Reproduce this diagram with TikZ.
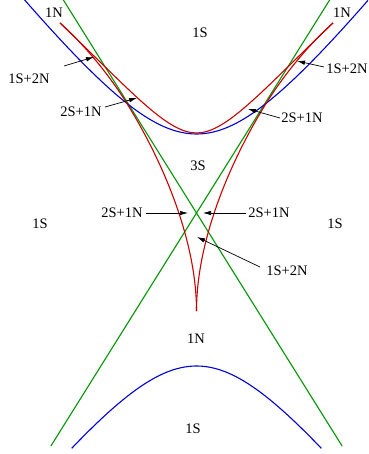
\documentclass[tikz,border=0pt]{standalone}
\usepackage{fontspec}
\setmainfont{Liberation Serif}
\usetikzlibrary{arrows.meta}
\definecolor{cblue}{RGB}{0,0,210}
\definecolor{cred}{RGB}{200,0,0}
\definecolor{cgreen}{RGB}{0,150,0}
\begin{document}
\begin{tikzpicture}[x=1pt,y=-1pt,
  lab/.style={font=\fontsize{14.5}{16}\selectfont, inner sep=0pt},
  curve/.style={line width=1.1pt},
  pointer/.style={line width=0.7pt, -{Latex[length=8pt,width=4.5pt]}}]
\useasboundingbox (0,0) rectangle (368,454);
\begin{scope}
\clip (0,0) rectangle (368,454);
% green asymptote-like lines
\draw[curve, cgreen] (60.25,-5) -- (342.1,446);
\draw[curve, cgreen] (332.75,-5) -- (50.9,446);
% blue hyperbola
\draw[curve, cblue] plot[domain=-1.45:1.45, samples=120, variable=\t] ({196.5+90*sinh(\t)},{250-116*cosh(\t)});
\draw[curve, cblue] plot[domain=-1.13:1.13, samples=100, variable=\t] ({196.5+90*sinh(\t)},{250+116*cosh(\t)});
% red curve
\begin{scope}[shift={(196.5,0)}]
\foreach \s in {1,-1}{
  \begin{scope}[xscale=\s]
    \draw[curve, cred] (-136.5,23) .. controls (-64.5,92) and (-29.5,133) .. (0,133);
    \draw[curve, cred] (-136.5,23) .. controls (-111.5,45) and (-86.1,77) .. (-70.5,102)
                                  .. controls (-33,162) and (0,241) .. (0,311);
  \end{scope}
}
\end{scope}
\end{scope}
% labels
\node[lab] (n1) at (54,13) {1N};
\node[lab] (n2) at (342,13) {1N};
\node[lab] (s1) at (200,33) {1S};
\node[lab] (l1) at (29,79) {1S+2N};
\node[lab] (r1) at (347,69) {1S+2N};
\node[lab] (l2) at (81,112) {2S+1N};
\node[lab] (r2) at (302,118) {2S+1N};
\node[lab] (s3) at (198,166) {3S};
\node[lab] (sl) at (40,224) {1S};
\node[lab] (sr) at (335,224) {1S};
\node[lab] (ml) at (122,213) {2S+1N};
\node[lab] (mr) at (269,213) {2S+1N};
\node[lab] (lo) at (287,271) {1S+2N};
\node[lab] (nb) at (196,339) {1N};
\node[lab] (sb) at (193,429) {1S};
% arrows
\coordinate (t1) at (64,66);   \coordinate (h1) at (94,57);
\coordinate (t2) at (105,107); \coordinate (h2) at (137,98);
\coordinate (t3) at (280,118); \coordinate (h3) at (248,109);
\coordinate (t4) at (324,67);  \coordinate (h4) at (297,61);
\coordinate (t5) at (146,213); \coordinate (h5) at (188,213);
\coordinate (t6) at (246,213); \coordinate (h6) at (203,213);
\coordinate (t7) at (260,267); \coordinate (h7) at (197,237);
\draw[pointer] (t1) -- (h1);
\draw[pointer] (t2) -- (h2);
\draw[pointer] (t3) -- (h3);
\draw[pointer] (t4) -- (h4);
\draw[pointer] (t5) -- (h5);
\draw[pointer] (t6) -- (h6);
\draw[pointer] (t7) -- (h7);
\end{tikzpicture}
\end{document}
